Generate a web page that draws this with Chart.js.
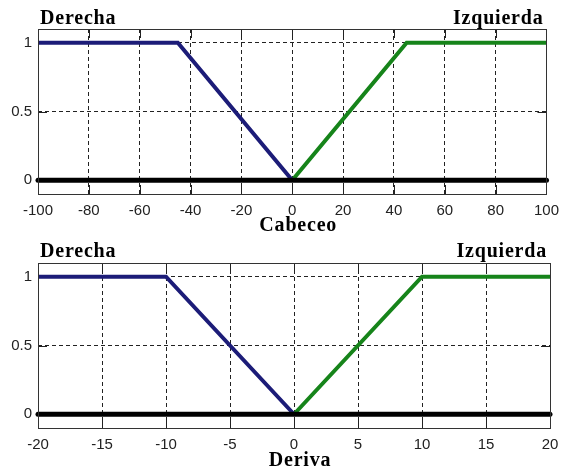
<!DOCTYPE html>
<html>
<head>
<meta charset="utf-8">
<script src="https://cdn.jsdelivr.net/npm/chart.js@4/dist/chart.umd.min.js"></script>
<style>
  html, body { margin: 0; padding: 0; background: #ffffff; }
  .box { position: relative; width: 567px; height: 233px; }
  canvas { display: block; }
</style>
</head>
<body>
<div class="box"><canvas id="c1" width="567" height="233"></canvas></div>
<div class="box"><canvas id="c2" width="567" height="233"></canvas></div>
<script>
// ---- Data ----
const yTicks = [0, 0.5, 1];
const yTickLabels = ['0', '0.5', '1'];

const cabeceoTicks = [-100, -80, -60, -40, -20, 0, 20, 40, 60, 80, 100];
const cabDerechaX = [-100, -45, 0];
const cabDerechaY = [1, 1, 0];
const cabIzquierdaX = [0, 45, 100];
const cabIzquierdaY = [0, 1, 1];
const cabCeroX = [-100, 100];
const cabCeroY = [0, 0];

const derivaTicks = [-20, -15, -10, -5, 0, 5, 10, 15, 20];
const derDerechaX = [-20, -10, 0];
const derDerechaY = [1, 1, 0];
const derIzquierdaX = [0, 10, 20];
const derIzquierdaY = [0, 1, 1];
const derCeroX = [-20, 20];
const derCeroY = [0, 0];

const setLabels = ['Derecha', 'Izquierda'];

// ---- helpers ----
function pts(xs, ys) { return xs.map((x, i) => ({ x: x, y: ys[i] })); }

const BLUE = '#1c1c78';
const GREEN = '#16841a';

const framePlugin = {
  id: 'frame',
  beforeDatasetsDraw(chart) {
    const ctx = chart.ctx, a = chart.chartArea;
    const xs = chart.scales.x, ys = chart.scales.y;
    ctx.save();
    ctx.strokeStyle = '#222';
    ctx.lineWidth = 1;
    ctx.setLineDash([]);
    ctx.beginPath();
    xs.ticks.forEach(t => {
      const px = Math.round(xs.getPixelForValue(t.value)) + 0.5;
      ctx.moveTo(px, a.bottom); ctx.lineTo(px, a.bottom - 9);
      ctx.moveTo(px, a.top); ctx.lineTo(px, a.top + 9);
    });
    ys.ticks.forEach(t => {
      const py = Math.round(ys.getPixelForValue(t.value)) + 0.5;
      ctx.moveTo(a.left, py); ctx.lineTo(a.left + 9, py);
      ctx.moveTo(a.right, py); ctx.lineTo(a.right - 9, py);
    });
    ctx.stroke();
    ctx.restore();
  },
  afterDraw(chart) {
    const ctx = chart.ctx, a = chart.chartArea;
    const o = chart.options.plugins.frame;
    ctx.save();
    ctx.strokeStyle = '#333';
    ctx.lineWidth = 1;
    ctx.strokeRect(Math.round(a.left) + 0.5, Math.round(a.top) + 0.5,
                   Math.round(a.right - a.left), Math.round(a.bottom - a.top));
    ctx.fillStyle = '#000';
    ctx.font = 'bold 20px "Liberation Serif", "Times New Roman", serif';
    ctx.letterSpacing = '0.8px';
    ctx.textBaseline = 'alphabetic';
    ctx.textAlign = 'left';
    ctx.fillText(setLabels[0], a.left + 2, o.titleY);
    ctx.textAlign = 'right';
    ctx.fillText(setLabels[1], a.right - 3, o.titleY);
    ctx.textAlign = 'center';
    ctx.textBaseline = 'middle';
    ctx.fillText(o.axisTitle, (a.left + a.right) / 2 + 6, a.bottom + o.axisTitleOffset);
    ctx.restore();
  }
};

function makeChart(id, cfg) {
  return new Chart(document.getElementById(id), {
    type: 'line',
    data: {
      datasets: [
        { data: pts(cfg.zx, cfg.zy), borderColor: '#000', borderWidth: 5, order: 0, clip: false, borderCapStyle: 'round' },
        { data: pts(cfg.dx, cfg.dy), borderColor: BLUE, borderWidth: 4, order: 1 },
        { data: pts(cfg.ix, cfg.iy), borderColor: GREEN, borderWidth: 4, order: 1 }
      ]
    },
    options: {
      responsive: false,
      animation: false,
      events: [],
      elements: { point: { radius: 0 }, line: { tension: 0, borderJoinStyle: 'miter' } },
      layout: { padding: { top: cfg.top, right: cfg.right, left: 0, bottom: 0 } },
      plugins: {
        legend: { display: false },
        tooltip: { enabled: false },
        frame: { titleY: cfg.titleY, axisTitle: cfg.axisTitle, axisTitleOffset: cfg.axisTitleOffset }
      },
      scales: {
        x: {
          type: 'linear',
          min: cfg.min, max: cfg.max,
          afterBuildTicks: s => { s.ticks = cfg.ticks.map(v => ({ value: v })); },
          afterFit: s => { s.height = cfg.xh; },
          grid: { color: '#222', lineWidth: 1, drawTicks: false, tickLength: 0 },
          border: { display: false, dash: [4, 3] },
          ticks: { color: '#222', padding: 8, maxRotation: 0, autoSkip: false,
                   font: { family: '"Liberation Sans", Arial, sans-serif', size: 15 },
                   callback: v => String(v) }
        },
        y: {
          type: 'linear',
          min: -0.1, max: 1.1,
          afterBuildTicks: s => { s.ticks = yTicks.map(v => ({ value: v })); },
          afterFit: s => { s.width = 38; },
          grid: { color: '#222', lineWidth: 1, drawTicks: false, tickLength: 0 },
          border: { display: false, dash: [4, 3] },
          ticks: { color: '#222', padding: 6,
                   font: { family: '"Liberation Sans", Arial, sans-serif', size: 15 },
                   callback: v => yTickLabels[yTicks.indexOf(v)] }
        }
      }
    },
    plugins: [framePlugin]
  });
}

makeChart('c1', {
  zx: cabCeroX, zy: cabCeroY, dx: cabDerechaX, dy: cabDerechaY, ix: cabIzquierdaX, iy: cabIzquierdaY,
  min: -100, max: 100, ticks: cabeceoTicks, top: 29, right: 16, xh: 39,
  titleY: 24, axisTitle: 'Cabeceo', axisTitleOffset: 32
});
makeChart('c2', {
  zx: derCeroX, zy: derCeroY, dx: derDerechaX, dy: derDerechaY, ix: derIzquierdaX, iy: derIzquierdaY,
  min: -20, max: 20, ticks: derivaTicks, top: 30, right: 17, xh: 38,
  titleY: 24, axisTitle: 'Deriva', axisTitleOffset: 33
});
</script>
</body>
</html>
